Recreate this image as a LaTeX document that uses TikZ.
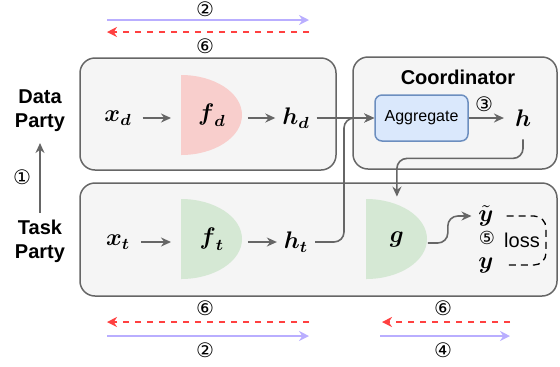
\documentclass[tikz,border=0pt]{standalone}
\usepackage{amsmath}
\usepackage{fontspec}
\setmainfont{Liberation Sans}
\newfontfamily\circfont{DejaVu Sans}
\usetikzlibrary{arrows.meta}
\definecolor{boxgray}{HTML}{F5F5F5}
\definecolor{edgegray}{HTML}{666666}
\definecolor{dred}{HTML}{F8CECC}
\definecolor{dgreen}{HTML}{D5E8D4}
\definecolor{aggfill}{HTML}{DAE8FC}
\definecolor{aggedge}{HTML}{6C8EBF}
\definecolor{fwdpurple}{RGB}{185,174,255}
\definecolor{bwdred}{RGB}{255,64,64}

\tikzset{
	party/.style={draw=edgegray, fill=boxgray, line width=0.75pt, rounded corners=7.5pt},
	dbox/.style={anchor=west, minimum width=30.5pt, minimum height=40pt, inner sep=0pt},
	sym/.style={font=\fontsize{11.5}{14}\selectfont},
	flow/.style={draw=edgegray, line width=0.8pt, -{Stealth[length=5pt,width=4.5pt]}},
	fwd/.style={draw=fwdpurple, line width=1pt, -{Stealth[length=5pt,width=5pt]}},
	bwd/.style={draw=bwdred, line width=1pt, dash pattern=on 3pt off 3pt, -{Stealth[length=5pt,width=5pt]}},
	lossline/.style={draw=black, line width=0.65pt, dash pattern=on 3.5pt off 2.5pt, rounded corners=6pt},
	circnum/.style={font=\circfont\fontsize{10}{10}\selectfont, inner sep=0pt},
	partylabel/.style={font=\bfseries, align=center},
}

\begin{document}
\begin{tikzpicture}[x=0.5pt, y=-0.5pt]
		\useasboundingbox (0,0) rectangle (560,366);
		\def\halfd#1#2{\fill[#2] (#1) ++(0,-40) arc[start angle=-90, end angle=90, x radius=61, y radius=40] -- cycle;}
		\draw[party] (80,58) rectangle (336,170);
		\draw[party] (353,57) rectangle (557,169);
		\draw[party] (80,183) rectangle (557,296);
		\coordinate (fdw) at (181,115);
		\coordinate (ftw) at (181,239);
		\coordinate (gw) at (366,239);
		\halfd{fdw}{dred}
		\halfd{ftw}{dgreen}
		\halfd{gw}{dgreen}

		\node[partylabel] (dp) at (40,111) {Data\\Party};
		\node[partylabel] (tp) at (40,241) {Task\\Party};
		\node[font=\bfseries] (coord) at (458,77) {Coordinator};
		\node[circnum] (n1) at (22,177) {①};
		\draw[flow, shorten >=2pt] (tp) -- (dp);

		\node[sym] (xd) at (118,118) {$\boldsymbol{x}_{\boldsymbol{d}}$};
		\node[dbox, sym] (fd) at (fdw) {$\boldsymbol{f}_{\boldsymbol{d}}$};
		\node[sym] (hd) at (296,118) {$\boldsymbol{h}_{\boldsymbol{d}}$};
		\node[draw=aggedge, fill=aggfill, line width=0.75pt, rounded corners=3.5pt,
		minimum width=46.5pt, minimum height=23pt, font=\footnotesize] (agg) at (421.5,118) {Aggregate};
		\node[sym] (h) at (523,118) {$\boldsymbol{h}$};
		\node[circnum] (n3) at (484,104) {③};

		\node[sym] (xt) at (118,242) {$\boldsymbol{x}_{\boldsymbol{t}}$};
		\node[dbox, sym] (ft) at (ftw) {$\boldsymbol{f}_{\boldsymbol{t}}$};
		\node[sym] (ht) at (296,242) {$\boldsymbol{h}_{\boldsymbol{t}}$};
		\node[dbox, sym] (g) at (gw) {$\boldsymbol{g}$};
		\node[sym, inner sep=1pt] (yt) at (486,216) {$\tilde{\boldsymbol{y}}$};
		\node[sym, inner sep=1pt] (y) at (486,265) {$\boldsymbol{y}$};
		\node[circnum, font=\circfont\fontsize{9}{9}\selectfont] (n5) at (487,238) {⑤};
		\node (loss) at (522,240) {loss};

		\draw[flow, shorten <=2pt, shorten >=5pt] (xd) -- (xd -| fd.west);
		\draw[flow, shorten <=2.5pt] (fd.east |- hd) -- (hd);
		\draw[flow] (hd) -- (agg);
		\draw[flow, shorten >=2pt] (agg) -- (h);
		\draw[flow, shorten <=2pt, shorten >=5pt] (xt) -- (xt -| ft.west);
		\draw[flow, shorten <=2.5pt] (ft.east |- ht) -- (ht);
		\coordinate (merge) at (344,118);
		\draw[flow, rounded corners=5pt] (ht) -| (merge) -- (agg);
		\draw[flow, rounded corners=5pt, shorten <=3pt, shorten >=1pt] (h.south) -- ++(0,25) -| (g);
		\draw[flow, rounded corners=5pt, shorten >=2.3pt] ([yshift=-2pt]g.east) -- ++(20,0) |- (yt);
		\coordinate (lossr) at (546,240);
		\draw[lossline, shorten <=5.3pt, shorten >=5.3pt] (yt.east) -| (lossr) |- (y.east);

		\path (107,20) coordinate (tfl) (309,20) coordinate (tfr)
		(107,32) coordinate (tbl) (309,32) coordinate (tbr)
		(107,336) coordinate (bfl) (309,336) coordinate (bfr)
		(107,322) coordinate (bbl) (309,322) coordinate (bbr)
		(380,336) coordinate (cfl) (510,336) coordinate (cfr)
		(382,322) coordinate (cbl) (510,322) coordinate (cbr);
		\draw[fwd] (tfl) -- (tfr);
		\draw[bwd] (tbr) -- (tbl);
		\draw[fwd] (bfl) -- (bfr);
		\draw[bwd] (bbr) -- (bbl);
		\draw[fwd] (cfl) -- (cfr);
		\draw[bwd] (cbr) -- (cbl);
		\node[circnum] (n2top) at (205,9) {②};
		\node[circnum] (n6top) at (205,46) {⑥};
		\node[circnum] (n6bot) at (205,308) {⑥};
		\node[circnum] (n2bot) at (205,350) {②};
		\node[circnum] (n6right) at (443,308) {⑥};
		\node[circnum] (n4) at (443,350) {④};
	\end{tikzpicture}
\end{document}
